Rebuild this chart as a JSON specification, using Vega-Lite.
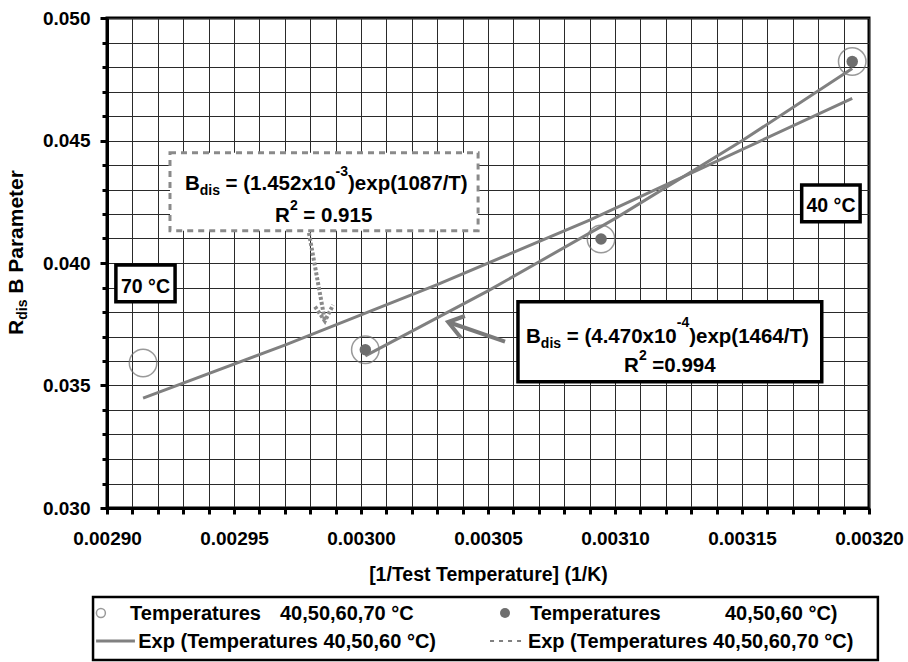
{
  "$schema": "https://vega.github.io/schema/vega-lite/v6.json",
  "width": 762,
  "height": 490,
  "autosize": {"type": "none"},
  "padding": {"left": 107, "top": 18, "right": 39, "bottom": 154},
  "background": "white",
  "config": {
    "view": {"stroke": "black", "strokeWidth": 3},
    "font": "Liberation Sans"
  },
  "datasets": {
    "all4": [
      {"x": 0.0029142, "y": 0.03592},
      {"x": 0.0030017, "y": 0.03646},
      {"x": 0.0030945, "y": 0.04098},
      {"x": 0.0031934, "y": 0.04822}
    ],
    "three": [
      {"x": 0.0030017, "y": 0.03646},
      {"x": 0.0030945, "y": 0.04098},
      {"x": 0.0031934, "y": 0.04822}
    ],
    "fits": [
      {"series": "exp3", "x": 0.0030017, "y": 0.036211},
      {"series": "exp3", "x": 0.00305, "y": 0.038861},
      {"series": "exp3", "x": 0.0031, "y": 0.041811},
      {"series": "exp3", "x": 0.00315, "y": 0.044987},
      {"series": "exp3", "x": 0.0031934, "y": 0.047937},
      {"series": "exp4", "x": 0.0029142, "y": 0.034481},
      {"series": "exp4", "x": 0.00297, "y": 0.036648},
      {"series": "exp4", "x": 0.00303, "y": 0.039118},
      {"series": "exp4", "x": 0.00309, "y": 0.041752},
      {"series": "exp4", "x": 0.0031934, "y": 0.046718}
    ],
    "arrowSolid": [
      {"part": "shaft", "ord": 0, "x": 0.0030567, "y": 0.036788},
      {"part": "shaft", "ord": 1, "x": 0.0030343, "y": 0.037592},
      {"part": "head", "ord": 0, "x": 0.0030409, "y": 0.037837},
      {"part": "head", "ord": 1, "x": 0.0030343, "y": 0.037592},
      {"part": "head", "ord": 2, "x": 0.0030394, "y": 0.036939}
    ],
    "arrowDotted": [
      {"part": "shaft", "ord": 0, "x": 0.0029795, "y": 0.041224},
      {"part": "shaft", "ord": 1, "x": 0.0029858, "y": 0.037633},
      {"part": "head", "ord": 0, "x": 0.0029819, "y": 0.038216},
      {"part": "head", "ord": 1, "x": 0.0029858, "y": 0.037633},
      {"part": "head", "ord": 2, "x": 0.002989, "y": 0.038286}
    ],
    "boxDashed": [
      {"x": 0.0029248, "x2": 0.0030461, "y": 0.044502, "y2": 0.041318}
    ],
    "boxSolid": [
      {"x": 0.0030618, "x2": 0.0031814, "y": 0.03842, "y2": 0.035155},
      {"x": 0.0029035, "x2": 0.0029268, "y": 0.039918, "y2": 0.03842},
      {"x": 0.0031735, "x2": 0.0031965, "y": 0.043184, "y2": 0.041686}
    ],
    "textBig": [
      {"x": 0.0029307, "y": 0.04298, "text": "B"},
      {"x": 0.0029467, "y": 0.04298, "text": "= (1.452x10"},
      {"x": 0.0029949, "y": 0.04298, "text": ")exp(1087/T)"},
      {"x": 0.0029661, "y": 0.041686, "text": "R"},
      {"x": 0.0029773, "y": 0.041686, "text": "= 0.915"},
      {"x": 0.003065, "y": 0.036723, "text": "B"},
      {"x": 0.003081, "y": 0.036723, "text": "= (4.470x10"},
      {"x": 0.0031292, "y": 0.036723, "text": ")exp(1464/T)"},
      {"x": 0.0031035, "y": 0.035563, "text": "R"},
      {"x": 0.0031147, "y": 0.035563, "text": "=0.994"}
    ],
    "textSmall": [
      {"x": 0.0029365, "y": 0.042776, "text": "dis"},
      {"x": 0.00299, "y": 0.043531, "text": "-3"},
      {"x": 0.002972, "y": 0.042163, "text": "2"},
      {"x": 0.0030708, "y": 0.036551, "text": "dis"},
      {"x": 0.0031243, "y": 0.037368, "text": "-4"},
      {"x": 0.0031094, "y": 0.036041, "text": "2"}
    ],
    "tempLabels": [
      {"x": 0.0029055, "y": 0.038788, "text": "70 °C"},
      {"x": 0.0031754, "y": 0.042069, "text": "40 °C"}
    ],
    "yTitleBig": [
      {"x": 0.002867, "y": 0.037061, "text": "R"},
      {"x": 0.002867, "y": 0.038743, "text": "B Parameter"}
    ],
    "yTitleSmall": [
      {"x": 0.0028685, "y": 0.037682, "text": "dis"}
    ],
    "legendBox": [
      {"x": 0.0028945, "x2": 0.0032035, "y": 0.026367, "y2": 0.023796}
    ],
    "legendOpen": [{"x": 0.0028976, "y": 0.025714}],
    "legendFilled": [{"x": 0.0030567, "y": 0.025714}],
    "legendSolid": [
      {"x": 0.0028957, "y": 0.024571},
      {"x": 0.002911, "y": 0.024571}
    ],
    "legendDashed": [
      {"x": 0.0030508, "y": 0.024571},
      {"x": 0.0030638, "y": 0.024571}
    ],
    "legendText": [
      {"x": 0.0029091, "y": 0.025429, "text": "Temperatures"},
      {"x": 0.0029681, "y": 0.025429, "text": "40,50,60,70 °C"},
      {"x": 0.0030665, "y": 0.025429, "text": "Temperatures"},
      {"x": 0.0031433, "y": 0.025429, "text": "40,50,60 °C)"},
      {"x": 0.0029123, "y": 0.024274, "text": "Exp (Temperatures 40,50,60 °C)"},
      {"x": 0.0030657, "y": 0.024274, "text": "Exp (Temperatures 40,50,60,70 °C)"}
    ]
  },
  "layer": [
    {
      "data": {"name": "all4"},
      "mark": {"type": "point", "filled": false, "shape": "circle", "size": 755, "color": "#6f6f6f", "strokeWidth": 1.5},
      "encoding": {
        "x": {
          "field": "x",
          "type": "quantitative",
          "scale": {"domain": [0.0029, 0.0032], "nice": false, "zero": false},
          "axis": {
            "values": [0.0029, 0.00291, 0.00292, 0.00293, 0.00294, 0.00295, 0.00296, 0.00297, 0.00298, 0.00299, 0.003, 0.00301, 0.00302, 0.00303, 0.00304, 0.00305, 0.00306, 0.00307, 0.00308, 0.00309, 0.0031, 0.00311, 0.00312, 0.00313, 0.00314, 0.00315, 0.00316, 0.00317, 0.00318, 0.00319, 0.0032],
            "tickCount": 100,
            "labelExpr": "round(datum.value * 100000) % 5 == 0 ? format(datum.value, '.5f') : ''",
            "labelOverlap": false,
            "labelFlush": false,
            "grid": true,
            "gridColor": "#2a2a2a",
            "gridWidth": 1,
            "domainColor": "black",
            "domainWidth": 3,
            "tickColor": "black",
            "tickWidth": 3,
            "tickSize": 6,
            "labelFont": "Liberation Sans",
            "labelFontWeight": "bold",
            "labelFontSize": 19,
            "labelColor": "black",
            "labelBaseline": "alphabetic",
            "labelPadding": 30,
            "title": "[1/Test Temperature] (1/K)",
            "titleFont": "Liberation Sans",
            "titleFontSize": 19.5,
            "titleFontWeight": "bold",
            "titleColor": "black",
            "titleBaseline": "alphabetic",
            "titleY": 72
          }
        },
        "y": {
          "field": "y",
          "type": "quantitative",
          "scale": {"domain": [0.03, 0.05], "nice": false, "zero": false},
          "axis": {
            "values": [0.03, 0.031, 0.032, 0.033, 0.034, 0.035, 0.036, 0.037, 0.038, 0.039, 0.04, 0.041, 0.042, 0.043, 0.044, 0.045, 0.046, 0.047, 0.048, 0.049, 0.05],
            "tickCount": 100,
            "labelExpr": "round(datum.value * 1000) % 5 == 0 ? format(datum.value, '.3f') : ''",
            "labelOverlap": false,
            "labelFlush": false,
            "grid": true,
            "gridColor": "#2a2a2a",
            "gridWidth": 1,
            "domainColor": "black",
            "domainWidth": 3,
            "tickColor": "black",
            "tickWidth": 3,
            "tickSize": {"condition": {"test": "round(datum.value * 1000) % 5 == 0", "value": 7}, "value": 5},
            "labelFont": "Liberation Sans",
            "labelFontWeight": "bold",
            "labelFontSize": 19,
            "labelColor": "black",
            "labelPadding": 10,
            "title": null
          }
        }
      }
    },
    {
      "data": {"name": "fits"},
      "mark": {"type": "line", "color": "#808080", "strokeWidth": 3},
      "encoding": {
        "x": {"field": "x", "type": "quantitative"},
        "y": {"field": "y", "type": "quantitative"},
        "detail": {"field": "series"}
      }
    },
    {
      "data": {"name": "three"},
      "mark": {"type": "point", "filled": true, "shape": "circle", "size": 133, "color": "#6e6e6e", "opacity": 1},
      "encoding": {
        "x": {"field": "x", "type": "quantitative"},
        "y": {"field": "y", "type": "quantitative"}
      }
    },
    {
      "data": {"name": "arrowSolid"},
      "mark": {"type": "line", "color": "#7a7a7a", "strokeWidth": 4},
      "encoding": {
        "x": {"field": "x", "type": "quantitative"},
        "y": {"field": "y", "type": "quantitative"},
        "detail": {"field": "part"},
        "order": {"field": "ord"}
      }
    },
    {
      "data": {"name": "arrowDotted"},
      "mark": {"type": "line", "color": "#8a8a8a", "strokeWidth": 4, "strokeDash": [3, 2]},
      "encoding": {
        "x": {"field": "x", "type": "quantitative"},
        "y": {"field": "y", "type": "quantitative"},
        "detail": {"field": "part"},
        "order": {"field": "ord"}
      }
    },
    {
      "data": {"name": "boxDashed"},
      "mark": {"type": "rect", "fill": "white", "stroke": "#8a8a8a", "strokeWidth": 3, "strokeDash": [6, 5]},
      "encoding": {
        "x": {"field": "x", "type": "quantitative"},
        "x2": {"field": "x2"},
        "y": {"field": "y", "type": "quantitative"},
        "y2": {"field": "y2"}
      }
    },
    {
      "data": {"name": "boxSolid"},
      "mark": {"type": "rect", "fill": "white", "stroke": "black", "strokeWidth": 3.5},
      "encoding": {
        "x": {"field": "x", "type": "quantitative"},
        "x2": {"field": "x2"},
        "y": {"field": "y", "type": "quantitative"},
        "y2": {"field": "y2"}
      }
    },
    {
      "data": {"name": "textBig"},
      "mark": {"type": "text", "font": "Liberation Sans", "fontWeight": "bold", "fontSize": 20.5, "align": "left", "baseline": "alphabetic", "color": "black"},
      "encoding": {
        "x": {"field": "x", "type": "quantitative"},
        "y": {"field": "y", "type": "quantitative"},
        "text": {"field": "text"}
      }
    },
    {
      "data": {"name": "textSmall"},
      "mark": {"type": "text", "font": "Liberation Sans", "fontWeight": "bold", "fontSize": 14, "align": "left", "baseline": "alphabetic", "color": "black"},
      "encoding": {
        "x": {"field": "x", "type": "quantitative"},
        "y": {"field": "y", "type": "quantitative"},
        "text": {"field": "text"}
      }
    },
    {
      "data": {"name": "tempLabels"},
      "mark": {"type": "text", "font": "Liberation Sans", "fontWeight": "bold", "fontSize": 19.5, "align": "left", "baseline": "alphabetic", "color": "black"},
      "encoding": {
        "x": {"field": "x", "type": "quantitative"},
        "y": {"field": "y", "type": "quantitative"},
        "text": {"field": "text"}
      }
    },
    {
      "data": {"name": "yTitleBig"},
      "mark": {"type": "text", "font": "Liberation Sans", "fontWeight": "bold", "fontSize": 21, "align": "left", "baseline": "alphabetic", "angle": 270, "color": "black"},
      "encoding": {
        "x": {"field": "x", "type": "quantitative"},
        "y": {"field": "y", "type": "quantitative"},
        "text": {"field": "text"}
      }
    },
    {
      "data": {"name": "yTitleSmall"},
      "mark": {"type": "text", "font": "Liberation Sans", "fontWeight": "bold", "fontSize": 14, "align": "left", "baseline": "alphabetic", "angle": 270, "color": "black"},
      "encoding": {
        "x": {"field": "x", "type": "quantitative"},
        "y": {"field": "y", "type": "quantitative"},
        "text": {"field": "text"}
      }
    },
    {
      "data": {"name": "legendBox"},
      "mark": {"type": "rect", "fill": "white", "stroke": "black", "strokeWidth": 2.5},
      "encoding": {
        "x": {"field": "x", "type": "quantitative"},
        "x2": {"field": "x2"},
        "y": {"field": "y", "type": "quantitative"},
        "y2": {"field": "y2"}
      }
    },
    {
      "data": {"name": "legendOpen"},
      "mark": {"type": "point", "filled": false, "shape": "circle", "size": 80, "color": "#6f6f6f", "strokeWidth": 1.5},
      "encoding": {
        "x": {"field": "x", "type": "quantitative"},
        "y": {"field": "y", "type": "quantitative"}
      }
    },
    {
      "data": {"name": "legendFilled"},
      "mark": {"type": "point", "filled": true, "shape": "circle", "size": 100, "color": "#6e6e6e", "opacity": 1},
      "encoding": {
        "x": {"field": "x", "type": "quantitative"},
        "y": {"field": "y", "type": "quantitative"}
      }
    },
    {
      "data": {"name": "legendSolid"},
      "mark": {"type": "line", "color": "#808080", "strokeWidth": 3},
      "encoding": {
        "x": {"field": "x", "type": "quantitative"},
        "y": {"field": "y", "type": "quantitative"}
      }
    },
    {
      "data": {"name": "legendDashed"},
      "mark": {"type": "line", "color": "#808080", "strokeWidth": 2, "strokeDash": [4, 5]},
      "encoding": {
        "x": {"field": "x", "type": "quantitative"},
        "y": {"field": "y", "type": "quantitative"}
      }
    },
    {
      "data": {"name": "legendText"},
      "mark": {"type": "text", "font": "Liberation Sans", "fontWeight": "bold", "fontSize": 20, "align": "left", "baseline": "alphabetic", "color": "black"},
      "encoding": {
        "x": {"field": "x", "type": "quantitative"},
        "y": {"field": "y", "type": "quantitative"},
        "text": {"field": "text"}
      }
    }
  ]
}
